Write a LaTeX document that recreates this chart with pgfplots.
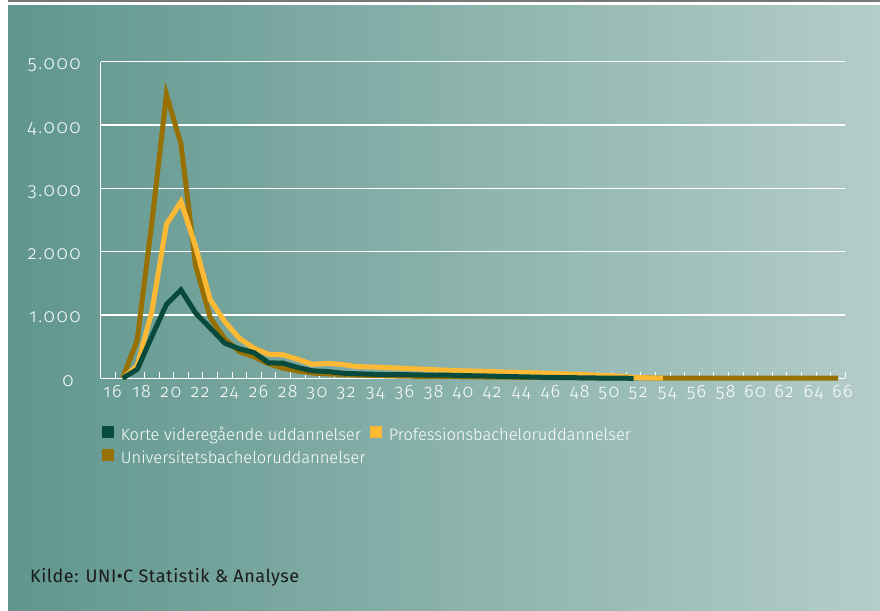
\documentclass[border=0pt]{standalone}
\usepackage{fontspec}
\setmainfont{Fira Sans}[UprightFont={* Light}, Numbers=OldStyle]
\newfontfamily\tickfont{Fira Sans}[UprightFont={* Light}, Numbers=OldStyle, LetterSpace=8]
\newfontfamily\kildefont{Fira Sans}[LetterSpace=3]
\usepackage{pgfplots}
\pgfplotsset{compat=1.18}
\definecolor{cDark}{HTML}{084A3C}
\definecolor{cYellow}{HTML}{FDB933}
\definecolor{cBrown}{HTML}{987000}
\definecolor{cBgL}{HTML}{5F968E}
\definecolor{cBgR}{HTML}{B4CDC8}
\definecolor{cGray}{HTML}{777777}
\definecolor{cKilde}{HTML}{1A1A1A}

\pgfplotstableread{
age val
17 0
18 140
19 660
20 1165
21 1395
22 1030
23 795
24 555
25 465
26 405
27 245
28 238
29 170
30 118
31 108
32 82
33 72
34 65
35 60
36 58
37 55
38 50
39 52
40 45
41 40
42 36
43 30
44 25
45 20
46 15
47 12
48 9
49 6
50 3
51 2
52 0
}\korte

\pgfplotstableread{
age val
17 0
18 200
19 1050
20 2430
21 2790
22 2080
23 1240
24 895
25 630
26 475
27 380
28 370
29 300
30 220
31 235
32 220
33 185
34 180
35 170
36 160
37 150
38 140
39 130
40 120
41 115
42 110
43 100
44 95
45 88
46 80
47 72
48 63
49 55
50 45
51 35
52 15
53 8
54 2
}\prof

\pgfplotstableread{
age val
17 0
18 600
19 2450
20 4480
21 3700
22 1780
23 960
24 620
25 420
26 340
27 230
28 160
29 115
30 85
31 70
32 60
33 50
34 45
35 40
36 35
37 32
38 30
39 27
40 25
41 22
42 20
43 18
44 16
45 14
46 12
47 10
48 9
49 8
50 7
51 6
52 5
53 5
54 4
55 4
56 3
57 3
58 3
59 2
60 2
61 2
62 1
63 1
64 1
65 1
66 1
}\univ

\begin{document}
\fontsize{16.5bp}{19bp}\selectfont
\begin{tikzpicture}
\path[use as bounding box] (0,0) rectangle (880bp,611bp);
\fill[white] (0,0) rectangle (880bp,611bp);
\fill[cGray] (8bp,609.2bp) rectangle (880bp,611bp);
\shade[left color=cBgL, right color=cBgR] (8bp,0) rectangle (880bp,605bp);
\begin{axis}[
  at={(100.7bp,232.7bp)}, anchor=south west,
  scale only axis, width=744.6bp, height=316.6bp,
  xmin=15.5, xmax=66.5, ymin=0, ymax=5000,
  clip=false,
  axis x line*=bottom, axis y line*=left,
  axis line style={white, line width=1.3bp, -},
  tick align=inside,
  major tick length=0pt,
  minor tick length=6bp,
  xtick={16,18,...,66},
  xticklabels={16,18,20,22,24,26,28,30,32,34,36,38,40,42,44,46,48,50,52,54,56,58,60,62,64,66},
  minor xtick={15.5,16.5,...,66.5},
  minor x tick style={white, line width=1bp},
  ytick={0,1000,2000,3000,4000,5000},
  yticklabels={0\kern7bp,1.000,2.000,3.000,4.000,5.000},
  ymajorgrids,
  major grid style={white, line width=1.3bp},
  xticklabel style={anchor=base, inner sep=0pt, yshift=-19.7bp, xshift=4.5bp, text=white,
    font=\tickfont\fontsize{18bp}{21bp}\selectfont},
  yticklabel style={anchor=base east, inner sep=0pt, xshift=-19.7bp, yshift=-8bp, text=white,
    font=\tickfont\fontsize{19bp}{22bp}\selectfont},
  legend columns=2,
  legend cell align=left,
  legend style={at={(0.0013,-0.1507)}, anchor=north west, draw=none, fill=none,
    inner sep=0pt, outer sep=0pt, text=white,
    nodes={inner sep=0pt, text height=11bp, text depth=3bp},
    row sep=6bp,
    /tikz/every even column/.append style={column sep=4bp}},
  legend image code/.code={\fill[#1] (0bp,-1bp) rectangle (11bp,10bp); \path[draw=none, fill=none] (0bp,0bp) -- (19bp,0bp);},
]
\addlegendimage{cDark, fill=cDark}
\addlegendentry{Korte videregående uddannelser}
\addlegendimage{cYellow, fill=cYellow}
\addlegendentry{Professionsbacheloruddannelser}
\addlegendimage{cBrown, fill=cBrown}
\addlegendentry{Universitetsbacheloruddannelser}
\addplot[cBrown, line width=5bp, forget plot] table[x=age, y=val] {\univ};
\addplot[cYellow, line width=5bp, forget plot] table[x=age, y=val] {\prof};
\addplot[cDark, line width=5bp, forget plot] table[x=age, y=val] {\korte};
\end{axis}
\node[anchor=base west, inner sep=0pt, text=cKilde, font=\kildefont\fontsize{18bp}{21bp}\selectfont] at (30bp,28.5bp) {Kilde: UNI•C Statistik \& Analyse};
\end{tikzpicture}
\end{document}
